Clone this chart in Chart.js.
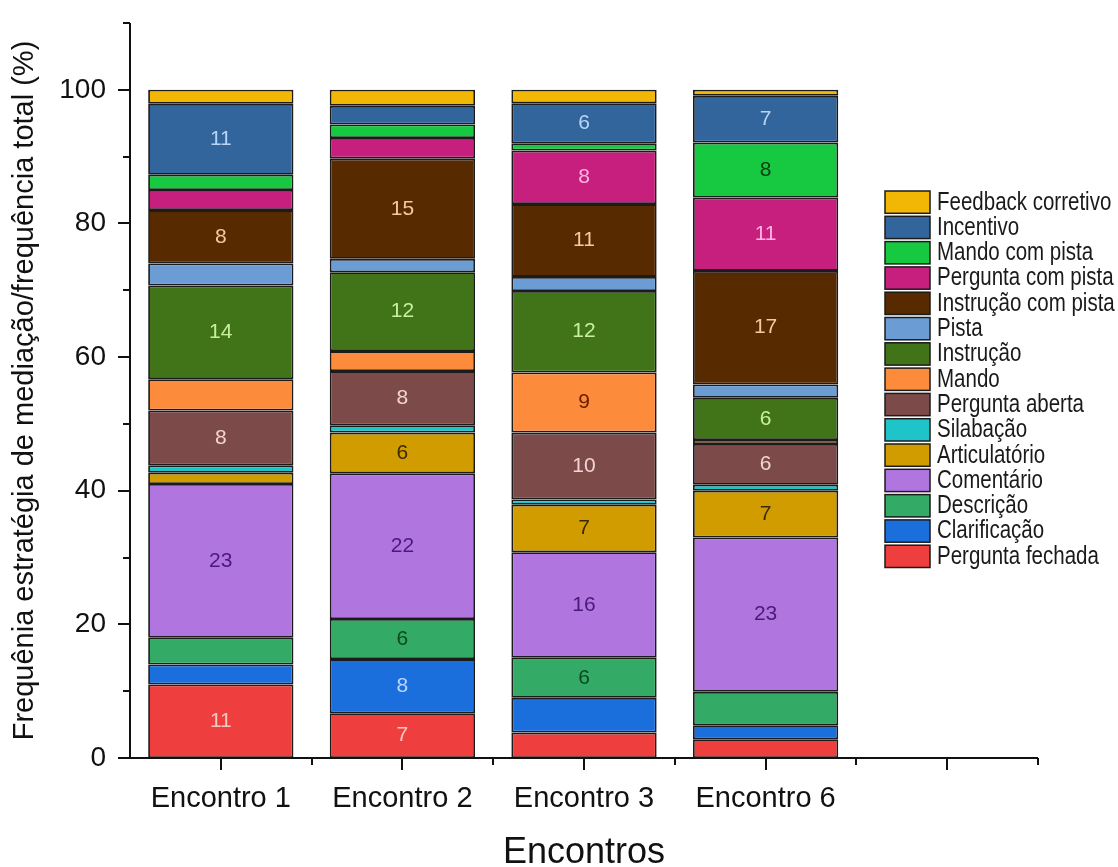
<!DOCTYPE html>
<html>
<head>
<meta charset="utf-8">
<script src="https://cdn.jsdelivr.net/npm/chart.js@4.4.0/dist/chart.umd.min.js"></script>
<style>
  html, body { margin: 0; padding: 0; background: #fff; }
  #wrap { width: 1118px; height: 867px; }
</style>
</head>
<body>
<div id="wrap"><canvas id="myChart" width="1118" height="867"></canvas></div>
<script>
const labels = ['Encontro 1', 'Encontro 2', 'Encontro 3', 'Encontro 6', ''];

// stack order, bottom to top
const seriesNames = ['Pergunta fechada', 'Clarificação', 'Descrição', 'Comentário', 'Articulatório',
  'Silabação', 'Pergunta aberta', 'Mando', 'Instrução', 'Pista', 'Instrução com pista',
  'Pergunta com pista', 'Mando com pista', 'Incentivo', 'Feedback corretivo'];

const perguntaFechada   = [11, 6.7, 3.8, 2.8];
const clarificacao      = [3, 8.1, 5.2, 2.1];
const descricao         = [4, 6, 6, 5];
const comentario        = [23, 21.8, 15.8, 23.1];
const articulatorio     = [1.7, 6.1, 7.1, 7];
const silabacao         = [1.1, 1.1, 0.8, 0.9];
const perguntaAberta    = [8.2, 8.1, 10, 6.1];
const mando             = [4.7, 3, 9, 0.6];
const instrucao         = [14, 11.8, 12.2, 6.3];
const pista             = [3.3, 2, 2.1, 2];
const instrucaoComPista = [8, 15, 10.9, 17];
const perguntaComPista  = [3, 3.1, 8, 11];
const mandoComPista     = [2.3, 2, 1.1, 8.2];
const incentivo         = [10.6, 2.8, 6, 7];
const feedbackCorretivo = [2.1, 2.4, 2, 0.9];

const seriesValues = [perguntaFechada, clarificacao, descricao, comentario, articulatorio,
  silabacao, perguntaAberta, mando, instrucao, pista, instrucaoComPista,
  perguntaComPista, mandoComPista, incentivo, feedbackCorretivo];

const yTicks = [0, 20, 40, 60, 80, 100];

const fills = ['#ef3e3e', '#1b6fdd', '#33ab66', '#b075de', '#d19c00',
  '#1fc4c8', '#7d4a4a', '#fd8b3c', '#417318', '#6b9cd3', '#582a00',
  '#c71f7d', '#17c940', '#31659c', '#f2b705'];
const labelColors = ['#fac8c2', '#bcd6ff', '#0d4a20', '#4a1a78', '#3a2a00',
  '#0a4a4a', '#f2d4d4', '#6a2000', '#c8f0a0', '#203050', '#f8c8a0',
  '#ffb4e2', '#0a4010', '#b8d4f8', '#4a3000'];

const FONT = '"Liberation Sans", Arial, sans-serif';

const datasets = seriesNames.map((name, i) => ({
  label: name,
  data: seriesValues[i],
  backgroundColor: fills[i],
  borderColor: '#1b1b1b',
  borderWidth: 1.8,
  borderSkipped: false,
  barPercentage: 0.8,
  categoryPercentage: 1.0
}));

// axis lines and ticks, drawn like the original (outward major + minor ticks)
const axesPlugin = {
  id: 'axes',
  afterDraw(chart) {
    const { ctx, chartArea, scales } = chart;
    const x = scales.x, y = scales.y;
    ctx.save();
    ctx.strokeStyle = '#111';
    ctx.lineWidth = 2;
    ctx.beginPath();
    ctx.moveTo(chartArea.left, chartArea.top);
    ctx.lineTo(chartArea.left, chartArea.bottom);
    ctx.lineTo(chartArea.right, chartArea.bottom);
    ctx.stroke();
    for (let v = 0; v <= 110; v += 10) {
      const py = Math.round(y.getPixelForValue(v));
      const len = v % 20 === 0 && v <= 100 ? 12 : 7;
      ctx.beginPath();
      ctx.moveTo(chartArea.left - len, py);
      ctx.lineTo(chartArea.left, py);
      ctx.stroke();
    }
    const n = labels.length;
    const step = (chartArea.right - chartArea.left) / n;
    for (let i = 0; i < n; i++) {
      const px = Math.round(x.getPixelForValue(i));
      ctx.beginPath();
      ctx.moveTo(px, chartArea.bottom);
      ctx.lineTo(px, chartArea.bottom + 12);
      ctx.stroke();
      const bx = Math.round(chartArea.left + step * (i + 1));
      ctx.beginPath();
      ctx.moveTo(bx, chartArea.bottom);
      ctx.lineTo(bx, chartArea.bottom + 7);
      ctx.stroke();
    }
    ctx.restore();
  }
};

// numbers inside the larger segments
const valueLabels = {
  id: 'valueLabels',
  afterDatasetsDraw(chart) {
    const { ctx } = chart;
    ctx.save();
    ctx.font = '21px ' + FONT;
    ctx.textAlign = 'center';
    ctx.textBaseline = 'middle';
    chart.data.datasets.forEach((ds, i) => {
      const meta = chart.getDatasetMeta(i);
      meta.data.forEach((bar, j) => {
        const v = ds.data[j];
        if (v == null || v < 5.5) return;
        ctx.fillStyle = labelColors[i];
        ctx.fillText(String(Math.round(v)), bar.x, (bar.y + bar.base) / 2);
      });
    });
    ctx.restore();
  }
};

// legend box at the right, inside the plot, top item = top of stack
const legendBox = {
  id: 'legendBox',
  afterDraw(chart) {
    const { ctx } = chart;
    const left = 885, top = 190, rowH = 25.3;
    ctx.save();
    ctx.textBaseline = 'middle';
    ctx.font = '25px ' + FONT;
    const order = chart.data.datasets.slice().reverse();
    order.forEach((ds, k) => {
      const yy = top + k * rowH;
      ctx.fillStyle = ds.backgroundColor;
      ctx.fillRect(left, yy + 1, 45, rowH - 3);
      ctx.strokeStyle = '#1b1b1b';
      ctx.lineWidth = 1.5;
      ctx.strokeRect(left, yy + 1, 45, rowH - 3);
      ctx.save();
      ctx.translate(left + 52, yy + rowH / 2);
      ctx.scale(0.82, 1);
      ctx.fillStyle = '#1a1a1a';
      ctx.fillText(ds.label, 0, 0);
      ctx.restore();
    });
    ctx.restore();
  }
};

const ctx = document.getElementById('myChart').getContext('2d');
const myChart = new Chart(ctx, {
  type: 'bar',
  data: { labels: labels, datasets: datasets },
  plugins: [axesPlugin, valueLabels, legendBox],
  options: {
    responsive: false,
    animation: false,
    layout: { padding: { top: 23, right: 80, bottom: 0, left: 0 } },
    plugins: { legend: { display: false }, tooltip: { enabled: false } },
    scales: {
      x: {
        stacked: true,
        offset: true,
        grid: { display: false, drawTicks: false },
        border: { display: false },
        ticks: { color: '#111', font: { family: FONT, size: 29 }, padding: 24, maxRotation: 0, autoSkip: false },
        title: { display: true, text: 'Encontros', color: '#111', font: { family: FONT, size: 36, lineHeight: 0.75 }, padding: 0 },
        afterFit(scale) { scale.height = 109; scale.paddingLeft = 0; scale.paddingRight = 0; }
      },
      y: {
        stacked: true,
        min: 0,
        max: 110,
        afterBuildTicks(scale) { scale.ticks = yTicks.map(v => ({ value: v })); },
        grid: { display: false, drawTicks: false },
        border: { display: false },
        ticks: { color: '#111', font: { family: FONT, size: 28 }, padding: 24 },
        title: {
          display: true,
          text: 'Frequênia estratégia de mediação/frequência total (%)',
          color: '#111',
          font: { family: FONT, size: 29 },
          padding: { top: 8, bottom: 0 }
        },
        afterFit(scale) { scale.width = 130; scale.paddingTop = 0; scale.paddingBottom = 0; }
      }
    }
  }
});
</script>
</body>
</html>
